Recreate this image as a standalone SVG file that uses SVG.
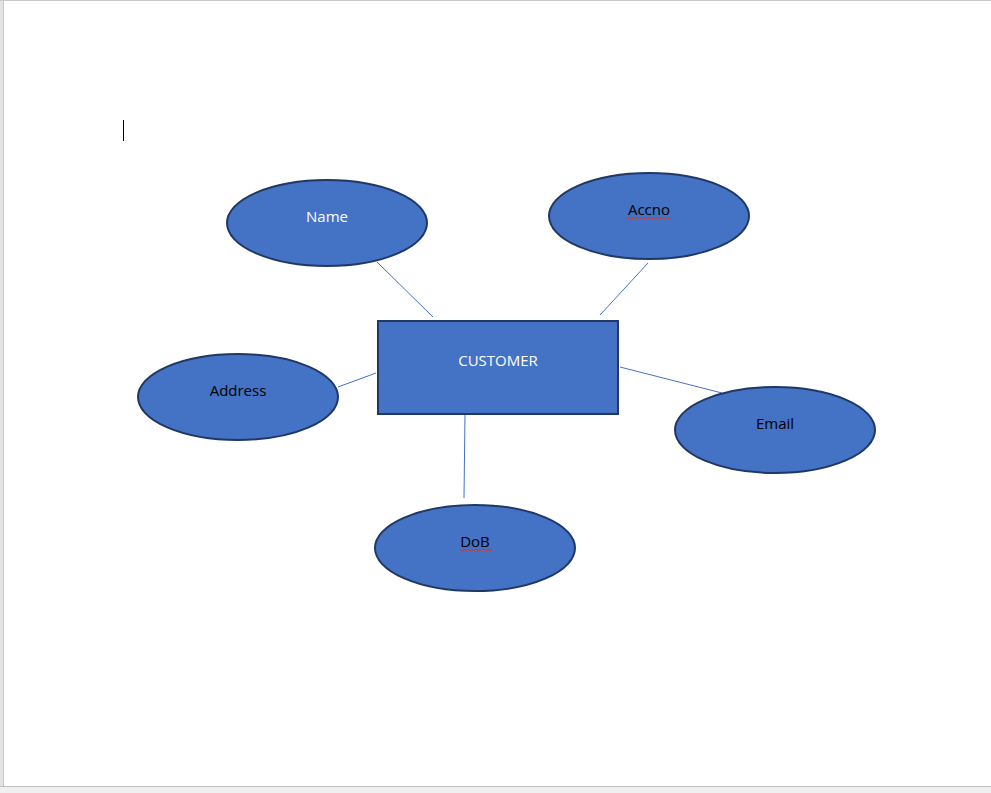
<svg xmlns="http://www.w3.org/2000/svg" width="991" height="793" viewBox="0 0 991 793">
  <style>
    .shape { fill: #4472C4; stroke: #1F3864; stroke-width: 2; }
    .link { stroke: #4472C4; stroke-width: 1; fill: none; }
    .lbl { font-family: "Open Sans", "Liberation Sans", sans-serif; font-size: 15px; text-anchor: middle; dominant-baseline: central; }
    .dark { fill: #000000; }
    .light { fill: #FFFFFF; }
    .squiggle { stroke: #E0301E; stroke-width: 1; fill: none; }
  </style>

  <!-- page surround -->
  <rect x="0" y="0" width="991" height="793" fill="#FFFFFF"/>
  <rect x="0" y="0" width="3" height="793" fill="#E3E3E3"/>
  <line x1="3.5" y1="0" x2="3.5" y2="786" stroke="#C8C8C8" stroke-width="1"/>
  <line x1="0" y1="0.5" x2="991" y2="0.5" stroke="#C8C8C8" stroke-width="1"/>
  <rect x="0" y="786" width="991" height="7" fill="#F0F0F0"/>
  <line x1="0" y1="786.5" x2="991" y2="786.5" stroke="#C0C0C0" stroke-width="1"/>

  <!-- text cursor -->
  <line x1="123.5" y1="120" x2="123.5" y2="141" stroke="#000000" stroke-width="1"/>

  <!-- connectors -->
  <g id="connectors">
    <line class="link" x1="377" y1="262" x2="433" y2="317"/>
    <line class="link" x1="648" y1="263" x2="600" y2="315"/>
    <line class="link" x1="338" y1="387" x2="376" y2="373"/>
    <line class="link" x1="620" y1="367" x2="722" y2="393"/>
    <line class="link" x1="465" y1="414" x2="464" y2="498"/>
  </g>

  <g id="customer">
    <rect class="shape" x="378" y="321" width="240" height="93"/>
    <text class="lbl light" x="498" y="360">CUSTOMER</text>
  </g>

  <g id="name">
    <ellipse class="shape" cx="327" cy="223" rx="100" ry="43"/>
    <text class="lbl light" x="327" y="216">Name</text>
  </g>

  <g id="accno">
    <ellipse class="shape" cx="649" cy="216" rx="100" ry="43"/>
    <text class="lbl dark" x="649" y="209">Accno</text>
    <path class="squiggle" d="M627 217 l2 2 l2 -2 l2 2 l2 -2 l2 2 l2 -2 l2 2 l2 -2 l2 2 l2 -2 l2 2 l2 -2 l2 2 l2 -2 l2 2 l2 -2 l2 2 l2 -2 l2 2 l2 -2 l2 2 l2 -2"/>
  </g>

  <g id="address">
    <ellipse class="shape" cx="238" cy="397" rx="100" ry="43"/>
    <text class="lbl dark" x="238" y="390">Address</text>
  </g>

  <g id="email">
    <ellipse class="shape" cx="775" cy="430" rx="100" ry="43"/>
    <text class="lbl dark" x="775" y="423">Email</text>
  </g>

  <g id="dob">
    <ellipse class="shape" cx="475" cy="548" rx="100" ry="43"/>
    <text class="lbl dark" x="475" y="541">DoB</text>
    <path class="squiggle" d="M460 549 l2 2 l2 -2 l2 2 l2 -2 l2 2 l2 -2 l2 2 l2 -2 l2 2 l2 -2 l2 2 l2 -2 l2 2 l2 -2 l2 2 l2 -2"/>
  </g>
</svg>
